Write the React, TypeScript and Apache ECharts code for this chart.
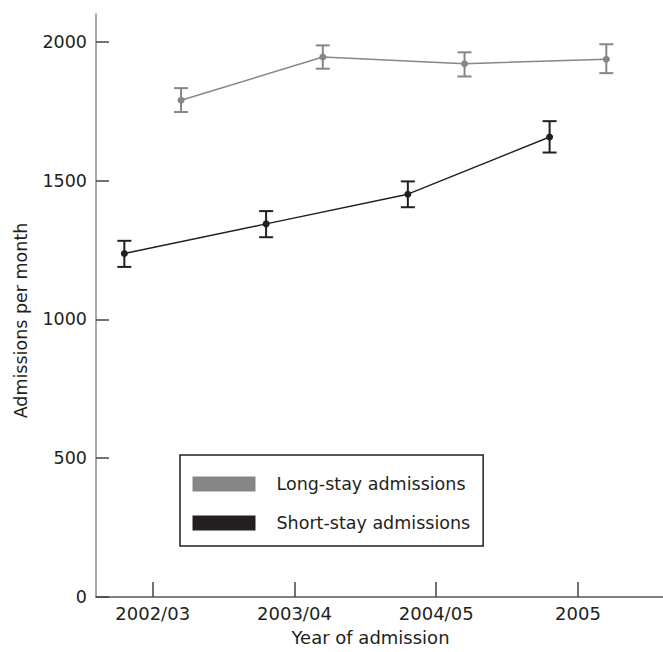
import React, { useEffect, useRef } from "react";
import * as echarts from "echarts";

const categories = ["2002/03", "2003/04", "2004/05", "2005"];
const yTicks = [0, 500, 1000, 1500, 2000];

const longMean = [1789, 1945, 1921, 1937];
const longLower = [1747, 1903, 1875, 1887];
const longUpper = [1833, 1987, 1962, 1991];

const shortMean = [1237, 1344, 1451, 1657];
const shortLower = [1189, 1296, 1404, 1601];
const shortUpper = [1283, 1390, 1497, 1714];

const GREY = "#858688";
const BLACK = "#231f20";
const FONT = "DejaVu Sans";

export default function App() {
  const ref = useRef<HTMLDivElement>(null);
  useEffect(() => {
    if (!ref.current) return;
    const chart = echarts.init(ref.current, null, { renderer: "svg" });
    const OFF = 0.2;
    const longPts = longMean.map((v, i) => [i + OFF, v]);
    const shortPts = shortMean.map((v, i) => [i - OFF, v]);
    const longErr = longMean.map((_, i) => [i + OFF, longLower[i], longUpper[i]]);
    const shortErr = shortMean.map((_, i) => [i - OFF, shortLower[i], shortUpper[i]]);

    const errRender = (color: string) => (params: any, api: any) => {
      const x = api.value(0);
      const lo = api.coord([x, api.value(1)]);
      const hi = api.coord([x, api.value(2)]);
      const hw = 7;
      const style = { stroke: color, lineWidth: 2, fill: "none" };
      return {
        type: "group",
        children: [
          { type: "line", shape: { x1: lo[0], y1: lo[1], x2: hi[0], y2: hi[1] }, style },
          { type: "line", shape: { x1: lo[0] - hw, y1: lo[1], x2: lo[0] + hw, y2: lo[1] }, style },
          { type: "line", shape: { x1: hi[0] - hw, y1: hi[1], x2: hi[0] + hw, y2: hi[1] }, style },
        ],
      };
    };

    chart.setOption({
      animation: false,
      textStyle: { fontFamily: FONT, color: BLACK },
      grid: { left: 96, right: 0, top: 14, bottom: 55, containLabel: false },
      legend: {
        orient: "vertical",
        left: 180,
        top: 455,
        padding: [20, 13, 14, 12.5],
        itemWidth: 63,
        itemHeight: 15,
        itemGap: 21,
        icon: "rect",
        borderColor: BLACK,
        borderWidth: 1.5,
        borderRadius: 0,
        selectedMode: false,
        textStyle: {
          fontFamily: FONT,
          fontSize: 17.5,
          color: BLACK,
          lineHeight: 15,
          padding: [0, 0, 0, 16],
        },
        data: ["Long-stay admissions", "Short-stay admissions"],
      },
      xAxis: {
        type: "value",
        min: -0.4,
        max: 3.6,
        name: "Year of admission",
        nameLocation: "middle",
        nameGap: 31,
        nameTextStyle: { fontFamily: FONT, fontSize: 18, color: BLACK, padding: [0, 18, 0, 0] },
        axisLine: { show: true, onZero: false, lineStyle: { color: "#555", width: 1.5 } },
        axisTick: {
          show: true,
          inside: true,
          length: 15,
          customValues: [0, 1, 2, 3],
          lineStyle: { color: "#444", width: 1.5 },
        },
        axisLabel: {
          customValues: [0, 1, 2, 3],
          margin: 7,
          fontFamily: FONT,
          fontSize: 18,
          color: BLACK,
          formatter: (v: number) => categories[Math.round(v)] ?? "",
        },
        splitLine: { show: false },
      },
      yAxis: {
        type: "value",
        min: 0,
        max: 2100,
        name: "Admissions per month",
        nameLocation: "middle",
        nameGap: 66,
        nameRotate: 90,
        nameTextStyle: { fontFamily: FONT, fontSize: 17.5, color: BLACK, padding: [0, 30, 0, 0] },
        axisLine: { show: true, onZero: false, lineStyle: { color: "#8a8a8a", width: 1.5 } },
        axisTick: {
          show: true,
          inside: true,
          length: 13,
          customValues: yTicks,
          lineStyle: { color: "#444", width: 1.5 },
        },
        axisLabel: {
          customValues: yTicks,
          margin: 9,
          fontFamily: FONT,
          fontSize: 17.5,
          color: BLACK,
          formatter: (v: number) => String(v),
        },
        splitLine: { show: false },
      },
      series: [
        {
          name: "Long-stay admissions",
          type: "line",
          data: longPts,
          symbol: "circle",
          symbolSize: 7,
          lineStyle: { color: GREY, width: 1.5 },
          itemStyle: { color: GREY },
          z: 3,
        },
        {
          name: "Short-stay admissions",
          type: "line",
          data: shortPts,
          symbol: "circle",
          symbolSize: 7,
          lineStyle: { color: BLACK, width: 1.5 },
          itemStyle: { color: BLACK },
          z: 3,
        },
        {
          name: "longErr",
          type: "custom",
          data: longErr,
          renderItem: errRender(GREY),
          encode: { x: 0, y: [1, 2] },
          z: 2,
        },
        {
          name: "shortErr",
          type: "custom",
          data: shortErr,
          renderItem: errRender(BLACK),
          encode: { x: 0, y: [1, 2] },
          z: 2,
        },
      ],
    });
    return () => chart.dispose();
  }, []);
  return <div ref={ref} style={{ width: 663, height: 652, position: "absolute", left: 0, top: 0 }} />;
}
